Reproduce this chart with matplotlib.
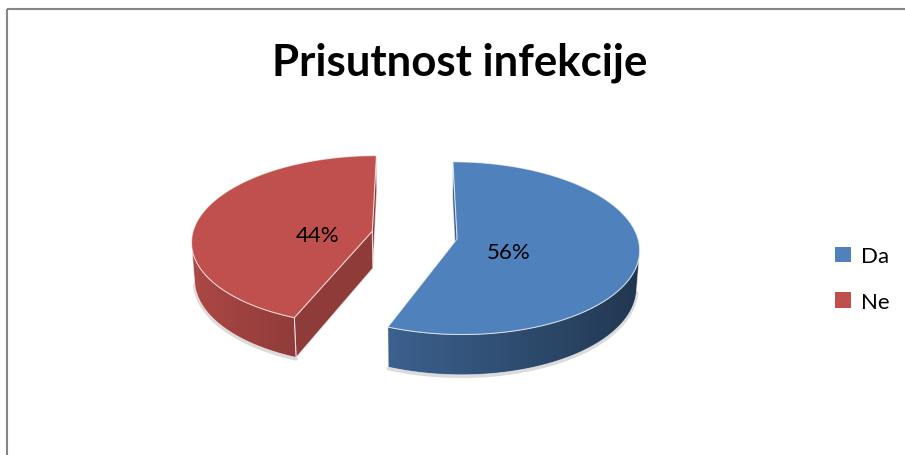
import numpy as np
import matplotlib.pyplot as plt
import matplotlib.colors as mcolors
from matplotlib.patches import Polygon, Rectangle, Patch

# data
labels = ["Da", "Ne"]
values = [56, 44]
colors = ["#4F81BD", "#C0504D"]
title = "Prisutnost infekcije"

plt.rcParams["font.family"] = ["Lato", "DejaVu Sans"]

fig = plt.figure(figsize=(9.05, 4.56), dpi=100)
ax = fig.add_axes([0, 0, 1, 1])
ax.set_xlim(0, 905)
ax.set_ylim(456, 0)
ax.axis("off")

# chart frame (cut off at right/bottom like the screenshot)
ax.add_patch(Rectangle((7, 10), 1000, 1000, fill=False, ec="#868686", lw=1.5))

ax.text(460, 63, title, ha="center", va="center", fontsize=31.5, fontweight="bold")

# 3d pie geometry (perspective projection)
cx, cy = 414.5, 236
scale = 180
phi = np.radians(28)
dist = 8.2
thick = 0.237
explode = 0.24
cam = np.array([0, -dist * np.cos(phi), dist * np.sin(phi)])


def project(X, Y, Z):
    X, Y, Z = np.asarray(X, float), np.asarray(Y, float), np.asarray(Z, float)
    v = Y * np.sin(phi) + Z * np.cos(phi)
    w = Y * np.cos(phi) - Z * np.sin(phi)
    f = 1 + w / dist
    return cx + scale * X / f, cy - scale * v / f


def shade(col, k):
    r, g, b = mcolors.to_rgb(col)
    return np.array([r * k, g * k, b * k])


# slices go clockwise from 12 o'clock, like excel
slices = []
start = np.pi / 2
total = sum(values)
for val, col in zip(values, colors):
    sweep = 2 * np.pi * val / total
    t1, t0 = start, start - sweep
    mid = (t0 + t1) / 2
    ox, oy = explode * np.cos(mid), explode * np.sin(mid)
    slices.append(dict(t0=t0, t1=t1, mid=mid, ox=ox, oy=oy, col=col, val=val))
    start = t0

# far slice first
slices.sort(key=lambda s: -s["oy"])

edge = dict(ec=(1, 1, 1, 0.6), lw=0.8)

for s in slices:
    t0, t1, ox, oy, col = s["t0"], s["t1"], s["ox"], s["oy"], s["col"]

    # cut faces
    for te, nang in ((t0, t0 - np.pi / 2), (t1, t1 + np.pi / 2)):
        n = np.array([np.cos(nang), np.sin(nang), 0])
        if n @ (cam - np.array([ox, oy, 0])) <= 0:
            continue
        X = [ox, ox + np.cos(te), ox + np.cos(te), ox]
        Y = [oy, oy + np.sin(te), oy + np.sin(te), oy]
        Z = [0, 0, -thick, -thick]
        px, py = project(X, Y, Z)
        ax.add_patch(Polygon(np.column_stack([px, py]), closed=True,
                             fc=shade(col, 0.74), zorder=1.1, **edge))

    # curved side: visible part of the rim, filled with a gradient
    th = np.linspace(t0, t1, 600)
    vis = -1 - ox * np.cos(th) - (dist * np.cos(phi) + oy) * np.sin(th) > 0
    if vis.any():
        th = th[vis]
        xt, yt = project(ox + np.cos(th), oy + np.sin(th), np.zeros_like(th))
        xb, yb = project(ox + np.cos(th), oy + np.sin(th), np.full_like(th, -thick))
        # soft shadow under the rim
        ax.plot(xb, yb + 1.5, color="#999999", lw=2.5, alpha=0.35,
                solid_capstyle="round", zorder=0.9)
        side = Polygon(np.column_stack([np.concatenate([xt, xb[::-1]]),
                                        np.concatenate([yt, yb[::-1]])]),
                       closed=True, fc="none", ec=edge["ec"], lw=0.6, zorder=1.1)
        ax.add_patch(side)
        order = np.argsort(xt)
        gx = np.linspace(xt.min() - 2, xt.max() + 2, 400)
        kf = np.interp(gx, xt[order], 0.66 - 0.25 * np.cos(th[order]))
        grad = np.array([shade(col, k) for k in kf])[None, :, :]
        im = ax.imshow(grad, extent=(gx[0], gx[-1], yb.max() + 2, yt.min() - 2),
                       aspect="auto", interpolation="bilinear", zorder=1)
        im.set_clip_path(side)

    # top face
    th = np.linspace(t0, t1, 300)
    X = np.concatenate([[ox], ox + np.cos(th)])
    Y = np.concatenate([[oy], oy + np.sin(th)])
    px, py = project(X, Y, np.zeros_like(X))
    ax.add_patch(Polygon(np.column_stack([px, py]), closed=True, fc=col,
                         zorder=1.2, **edge))

    # percentage label
    lx, ly = project(ox + 0.3 * np.cos(s["mid"]), oy + 0.3 * np.sin(s["mid"]), 0)
    ax.text(lx - 2, ly + 8, f"{round(100 * s['val'] / total)}%", ha="center",
            va="center", fontsize=16, zorder=3)

ax.set_xlim(0, 905)
ax.set_ylim(456, 0)

handles = [Patch(fc=c, ec="none", label=l) for c, l in zip(colors, labels)]
ax.legend(handles=handles, loc="upper left", bbox_to_anchor=(824 / 905, 1 - 236 / 456),
          frameon=False, fontsize=16, borderpad=0, handlelength=0.7,
          handleheight=0.7, handletextpad=0.45, labelspacing=1.15)

fig.savefig("out.png", dpi=100)
